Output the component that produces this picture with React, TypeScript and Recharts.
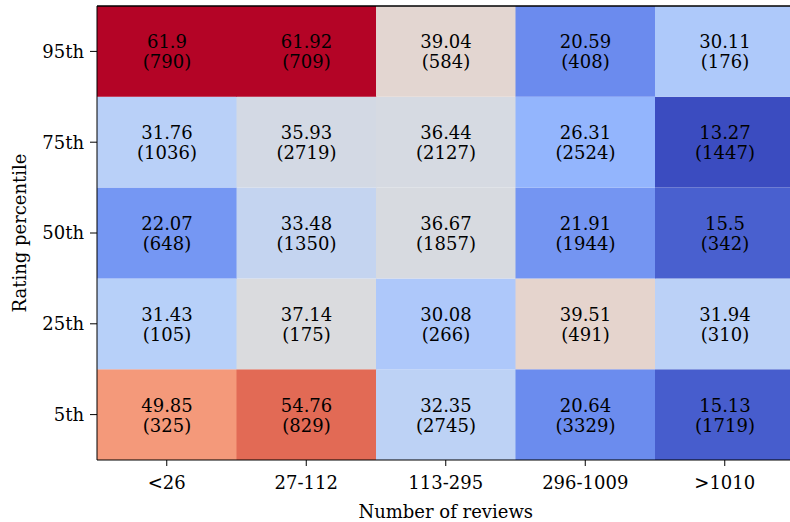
import React from 'react';
import { BarChart, Bar, XAxis, YAxis, Cell, LabelList, ReferenceLine } from 'recharts';

// columns (number of reviews) and rows (rating percentile, bottom to top)
const reviewBins = ['<26', '27-112', '113-295', '296-1009', '>1010'];
const percentiles = ['5th', '25th', '50th', '75th', '95th'];

const values5 = [49.85, 54.76, 32.35, 20.64, 15.13];
const counts5 = [325, 829, 2745, 3329, 1719];
const values25 = [31.43, 37.14, 30.08, 39.51, 31.94];
const counts25 = [105, 175, 266, 491, 310];
const values50 = [22.07, 33.48, 36.67, 21.91, 15.5];
const counts50 = [648, 1350, 1857, 1944, 342];
const values75 = [31.76, 35.93, 36.44, 26.31, 13.27];
const counts75 = [1036, 2719, 2127, 2524, 1447];
const values95 = [61.9, 61.92, 39.04, 20.59, 30.11];
const counts95 = [790, 709, 584, 408, 176];

const rowValues = [values5, values25, values50, values75, values95];
const rowCounts = [counts5, counts25, counts50, counts75, counts95];

const FONT = "'DejaVu Serif', serif";
const FS = 18;

// matplotlib coolwarm, sampled every 1/8
const coolwarm: [number, number, number][] = [
  [59, 76, 192], [98, 130, 234], [141, 176, 254], [184, 208, 249],
  [221, 220, 220], [245, 196, 173], [244, 154, 123], [222, 96, 77], [180, 4, 38],
];

const allValues = rowValues.flat();
const vmin = Math.min(...allValues);
const vmax = Math.max(...allValues);

function colorFor(v: number) {
  const t = Math.max(0, Math.min(1, (v - vmin) / (vmax - vmin))) * (coolwarm.length - 1);
  const i = Math.min(Math.floor(t), coolwarm.length - 2);
  const f = t - i;
  const a = coolwarm[i], b = coolwarm[i + 1];
  const c = a.map((x, k) => Math.round(x + (b[k] - x) * f));
  return `rgb(${c[0]},${c[1]},${c[2]})`;
}

// one row per column, each percentile stacked with height 1
const chartData = reviewBins.map((bin) => {
  const row: Record<string, number | string> = { bin };
  percentiles.forEach((_, i) => { row[`r${i}`] = 1; });
  return row;
});

const textStyle = { fontFamily: FONT, fontSize: FS, fill: '#000' };

const makeLabel = (rowIdx: number) => (props: any) => {
  const { x, y, width, height, index } = props;
  const cx = Number(x) + Number(width) / 2;
  const cy = Number(y) + Number(height) / 2;
  return (
    <g>
      <text x={cx} y={cy - 3} textAnchor="middle" style={textStyle}>{String(rowValues[rowIdx][index])}</text>
      <text x={cx} y={cy + 17} textAnchor="middle" style={textStyle}>({rowCounts[rowIdx][index]})</text>
    </g>
  );
};

export default function App() {
  return (
    <div style={{ position: 'absolute', left: 0, top: 0, width: 790, height: 522, overflow: 'hidden', background: '#fff' }}>
      <BarChart
        width={800}
        height={522}
        data={chartData}
        margin={{ top: 6, right: 5.5, bottom: 0, left: 0 }}
        barCategoryGap={0}
        barGap={0}
      >
        <XAxis
          dataKey="bin"
          height={62}
          stroke="#000"
          tickSize={6}
          tickMargin={10}
          tick={{ style: textStyle, fill: '#000' }}
          label={{ value: 'Number of reviews', position: 'insideBottom', offset: 4, style: textStyle }}
        />
        <YAxis
          type="number"
          domain={[0, 5]}
          ticks={[0.5, 1.5, 2.5, 3.5, 4.5]}
          tickFormatter={(v: number) => percentiles[Math.floor(v)]}
          width={97}
          stroke="#000"
          tickSize={7}
          tickMargin={6}
          tick={{ style: textStyle, fill: '#000' }}
          label={{ value: 'Rating percentile', angle: -90, position: 'insideLeft', offset: 20, style: { ...textStyle, textAnchor: 'middle' } }}
        />
        {percentiles.map((p, i) => (
          <Bar key={p} dataKey={`r${i}`} stackId="a" isAnimationActive={false}>
            {reviewBins.map((b, j) => (
              <Cell key={b} fill={colorFor(rowValues[i][j])} />
            ))}
            <LabelList content={makeLabel(i)} />
          </Bar>
        ))}
        <ReferenceLine y={5} stroke="#000" strokeWidth={1.5} />
      </BarChart>
    </div>
  );
}
